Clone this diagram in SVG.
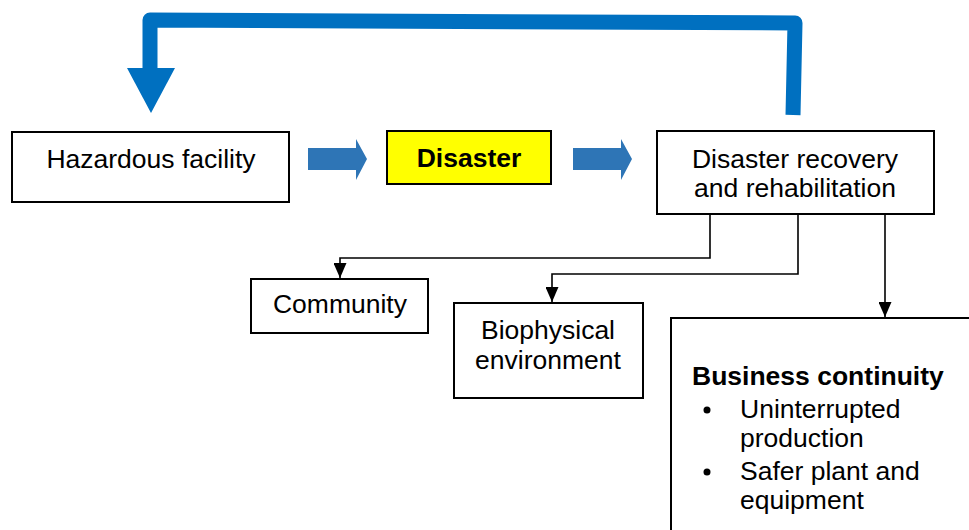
<svg xmlns="http://www.w3.org/2000/svg" width="969" height="530" viewBox="0 0 969 530">
<style>
  .box{fill:#fff;stroke:#000;stroke-width:2}
  .t{font-family:"Liberation Sans",Arial,sans-serif;font-size:26.5px;fill:#000}
  .c{text-anchor:middle}
  .b{font-weight:bold}
  .conn{fill:none;stroke:#000;stroke-width:1.6}
  .blk{fill:#2E75B6}
</style>
<defs>
  <marker id="ah" markerWidth="15" markerHeight="13" refX="15" refY="6.5" orient="auto" markerUnits="userSpaceOnUse" viewBox="0 0 15 13">
    <path d="M0,0 L15,6.5 L0,13 Z" fill="#000"/>
  </marker>
</defs>

<g id="feedback">
  <path d="M793,115 L795,23 L150,20 L150,70" fill="none" stroke="#0070C0" stroke-width="15" stroke-linejoin="round"/>
  <polygon points="127,68 175,68 151,113" fill="#0070C0"/>
</g>

<g id="hazardous">
  <rect class="box" x="12" y="132" width="277" height="70"/>
  <text class="t c" x="151" y="168">Hazardous facility</text>
</g>

<g id="arrow1">
  <polygon class="blk" points="308,148 356,148 356,139 367,159 356,180 356,170 308,170"/>
</g>

<g id="disaster">
  <rect x="387" y="131" width="164" height="53" fill="#FFFF00" stroke="#000" stroke-width="2"/>
  <text class="t c b" x="469" y="167">Disaster</text>
</g>

<g id="arrow2">
  <polygon class="blk" points="573,148 621,148 621,139 632,159 621,180 621,170 573,170"/>
</g>

<g id="recovery">
  <rect class="box" x="657" y="131" width="277" height="83"/>
  <text class="t c" x="795" y="168">Disaster recovery</text>
  <text class="t c" x="795" y="197">and rehabilitation</text>
</g>

<g id="connectors">
  <path class="conn" d="M710,214 V258 H340 V278" marker-end="url(#ah)"/>
  <path class="conn" d="M798,214 V274 H552 V302" marker-end="url(#ah)"/>
  <path class="conn" d="M885,214 V317" marker-end="url(#ah)"/>
</g>

<g id="community">
  <rect class="box" x="251" y="279" width="177" height="54"/>
  <text class="t c" x="340" y="313">Community</text>
</g>

<g id="biophysical">
  <rect class="box" x="454" y="303" width="189" height="95"/>
  <text class="t c" x="548" y="339">Biophysical</text>
  <text class="t c" x="548" y="369">environment</text>
</g>

<g id="business">
  <rect class="box" x="671" y="318" width="310" height="230"/>
  <text class="t b" x="692" y="385">Business continuity</text>
  <circle cx="707" cy="410" r="3.5" fill="#000"/>
  <text class="t" x="740" y="418">Uninterrupted</text>
  <text class="t" x="740" y="447">production</text>
  <circle cx="707" cy="472" r="3.5" fill="#000"/>
  <text class="t" x="740" y="480">Safer plant and</text>
  <text class="t" x="740" y="509">equipment</text>
</g>
</svg>
